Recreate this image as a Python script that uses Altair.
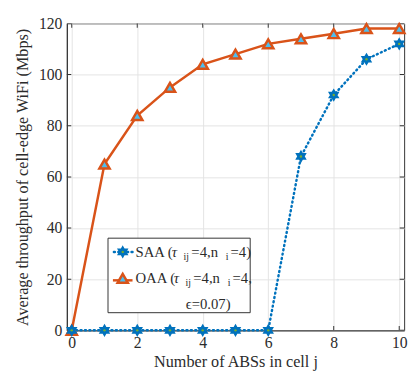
import math
import altair as alt
import pandas as pd

x_vals = [0, 1, 2, 3, 4, 5, 6, 7, 8, 9, 10]
saa = [0, 0, 0, 0, 0, 0, 0, 68, 92, 106, 112]
oaa = [0, 65, 84, 95, 104, 108, 112, 114, 116, 118, 118]
x_ticks = [0, 2, 4, 6, 8, 10]
y_ticks = [0, 20, 40, 60, 80, 100, 120]
X_MIN, X_MAX = -0.15, 10.15
Y_MIN, Y_MAX = 0, 120

df_saa = pd.DataFrame({"x": x_vals, "y": saa})
df_oaa = pd.DataFrame({"x": x_vals, "y": oaa})

# hexagram path
pts = []
for k in range(12):
    ang = math.radians(-90 + 30 * k)
    r = 1.0 if k % 2 == 0 else 1 / math.sqrt(3)
    pts.append((r * math.cos(ang), r * math.sin(ang)))
hexagram = "M" + " L".join(f"{px:.3f},{py:.3f}" for px, py in pts) + " Z"

FONT = "'Liberation Serif', 'Times New Roman', Times, serif"
BLUE = "#0072BD"
ORANGE = "#D95319"
CYAN = "#4DBEEE"
GREEN = "#77AC30"
TXT = "#2b2b2b"

xs = alt.Scale(domain=[X_MIN, X_MAX], nice=False, zero=False)
ys = alt.Scale(domain=[Y_MIN, Y_MAX], nice=False)

xenc = alt.X("x:Q", scale=xs, axis=alt.Axis(values=x_ticks, title="Number of ABSs in cell j",
                                             grid=True, tickSize=0, labelPadding=5, titlePadding=3))
yenc = alt.Y("y:Q", scale=ys, axis=alt.Axis(values=y_ticks, title="Average throughput of cell-edge WiFi (Mbps)",
                                             grid=True, tickSize=0, labelPadding=5, titlePadding=8))

# inward ticks (half clipped away)
left_t = pd.DataFrame({"x": [X_MIN] * len(y_ticks), "y": y_ticks})
right_t = pd.DataFrame({"x": [X_MAX] * len(y_ticks), "y": y_ticks})
bot_t = pd.DataFrame({"x": x_ticks, "y": [Y_MIN] * len(x_ticks)})
top_t = pd.DataFrame({"x": x_ticks, "y": [Y_MAX] * len(x_ticks)})
tick_layers = []
for d in (left_t, right_t):
    tick_layers.append(alt.Chart(d).mark_tick(orient="horizontal", size=9, thickness=1, clip=True,
                                              color="#333333", opacity=1).encode(x="x:Q", y="y:Q"))
for d in (bot_t, top_t):
    tick_layers.append(alt.Chart(d).mark_tick(orient="vertical", size=9, thickness=1, clip=True,
                                              color="#333333", opacity=1).encode(x="x:Q", y="y:Q"))

oaa_line = alt.Chart(df_oaa).mark_line(color=ORANGE, strokeWidth=2.5).encode(x=xenc, y=yenc)
oaa_pts = alt.Chart(df_oaa).mark_point(shape="triangle-up", filled=True, fill=CYAN, stroke=ORANGE,
                                       strokeWidth=2.5, size=110, opacity=1).encode(x="x:Q", y="y:Q")
saa_line = alt.Chart(df_saa).mark_line(color=BLUE, strokeWidth=2.5, strokeDash=[1, 3.5],
                                       strokeCap="round").encode(x="x:Q", y="y:Q")
saa_pts = alt.Chart(df_saa).mark_point(shape=hexagram, filled=True, fill=BLUE, stroke=BLUE,
                                       strokeWidth=1.5, size=110, opacity=1).encode(x="x:Q", y="y:Q")
saa_dot = alt.Chart(df_saa).mark_point(shape="circle", filled=True, fill=GREEN,
                                       size=6, opacity=1).encode(x="x:Q", y="y:Q")

# legend (drawn manually)
one = pd.DataFrame({"a": [0]})
leg_box = alt.Chart(one).mark_rect(fill="white", stroke="#333333", strokeWidth=1).encode(
    x=alt.value(42), x2=alt.value(187), y=alt.value(219), y2=alt.value(295))
leg_l1 = alt.Chart(one).mark_rule(color=BLUE, strokeWidth=2.5, strokeDash=[1, 3.5],
                                  strokeCap="round").encode(x=alt.value(48), x2=alt.value(67), y=alt.value(233))
leg_m1 = alt.Chart(one).mark_point(shape=hexagram, filled=True, fill=BLUE, stroke=BLUE,
                                   strokeWidth=1.5, size=110, opacity=1).encode(x=alt.value(57), y=alt.value(233))
leg_m1d = alt.Chart(one).mark_point(shape="circle", filled=True, fill=GREEN,
                                    size=6, opacity=1).encode(x=alt.value(57), y=alt.value(233))
leg_l2 = alt.Chart(one).mark_rule(color=ORANGE, strokeWidth=2.5).encode(
    x=alt.value(47), x2=alt.value(67), y=alt.value(262))
leg_m2 = alt.Chart(one).mark_point(shape="triangle-up", filled=True, fill=CYAN, stroke=ORANGE,
                                   strokeWidth=2.5, size=110, opacity=1).encode(x=alt.value(57), y=alt.value(260))


def txt(s, x, y, size=15, align="left", style="normal"):
    return alt.Chart(one).mark_text(
        text=s, font=FONT, fontSize=size, align=align, baseline="middle", color=TXT,
        fontStyle=style).encode(x=alt.value(x), y=alt.value(y))


legend_text = [
    txt("SAA (", 70, 233), txt("τ", 107, 233, style="italic"), txt("ij", 119, 238, size=10),
    txt("=4,n", 127, 233), txt("i", 162, 238, size=10), txt("=4)", 167, 233),
    txt("OAA (", 70, 260), txt("τ", 109, 260, style="italic"), txt("ij", 121, 265, size=10),
    txt("=4,n", 129, 260), txt("i", 164, 265, size=10), txt("=4,", 169, 260),
    txt("ϵ=0.07)", 167, 286, align="right"),
]

chart = alt.layer(
    *tick_layers, oaa_line, saa_line, oaa_pts, saa_pts, saa_dot,
    leg_box, leg_l1, leg_m1, leg_m1d, leg_l2, leg_m2, *legend_text,
).properties(
    width=344, height=313,
    autosize=alt.AutoSizeParams(type="none"),
    padding={"left": 60, "top": 12, "right": 7, "bottom": 52},
).configure_view(
    stroke="#333333", strokeWidth=1
).configure_axis(
    labelFont=FONT, titleFont=FONT, labelFontSize=16, titleFontSize=16.5,
    labelColor=TXT, titleColor=TXT, titleFontWeight="normal",
    gridColor="#e3e3e3", gridWidth=1, domain=True, domainColor="#333333",
)

chart.save("out.html", embed_options={"renderer": "svg", "actions": False})
